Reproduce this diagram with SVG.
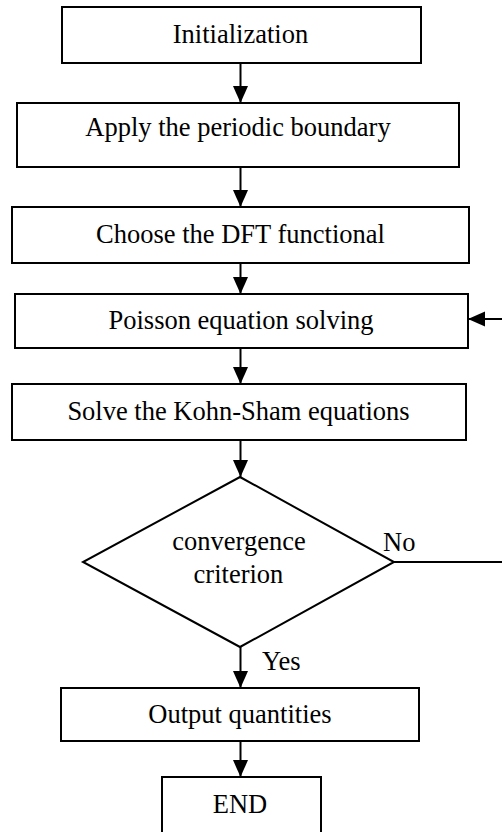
<svg xmlns="http://www.w3.org/2000/svg" width="502" height="832" viewBox="0 0 502 832">
<defs>
<style>
.box{fill:#fff;stroke:#000;stroke-width:2}
.t{font-family:"Liberation Serif","Times New Roman",serif;font-size:26.5px;fill:#000;text-anchor:middle}
.tl{font-family:"Liberation Serif","Times New Roman",serif;font-size:26.5px;fill:#000}
.c{fill:none;stroke:#000;stroke-width:2}
</style>
<marker id="ah" markerUnits="userSpaceOnUse" markerWidth="18" markerHeight="16" refX="17" refY="7.5" orient="auto">
<path d="M0,0 L17,7.5 L0,15 Z" fill="#000"/>
</marker>
</defs>
<rect width="502" height="832" fill="#fff"/>
<g id="connectors">
<line class="c" x1="240.5" y1="63" x2="240.5" y2="103" marker-end="url(#ah)"/>
<line class="c" x1="240.5" y1="167" x2="240.5" y2="207" marker-end="url(#ah)"/>
<line class="c" x1="240.5" y1="263" x2="240.5" y2="294" marker-end="url(#ah)"/>
<line class="c" x1="240.5" y1="348" x2="240.5" y2="384" marker-end="url(#ah)"/>
<line class="c" x1="240.5" y1="440" x2="240.5" y2="477" marker-end="url(#ah)"/>
<line class="c" x1="240.5" y1="647" x2="240.5" y2="688" marker-end="url(#ah)"/>
<line class="c" x1="240.5" y1="741" x2="240.5" y2="777" marker-end="url(#ah)"/>
<line class="c" x1="394" y1="562" x2="503" y2="562"/>
<line class="c" x1="503" y1="319" x2="468" y2="319" marker-end="url(#ah)"/>
<text class="tl" x="383" y="551">No</text>
<text class="tl" x="262" y="670">Yes</text>
</g>
<g id="n1"><rect class="box" x="62" y="7" width="359" height="56"/><text class="t" x="240.5" y="43">Initialization</text></g>
<g id="n2"><rect class="box" x="17" y="103" width="442" height="64"/><text class="t" x="238" y="136">Apply the periodic boundary</text></g>
<g id="n3"><rect class="box" x="12" y="207" width="457" height="56"/><text class="t" x="240.5" y="243">Choose the DFT functional</text></g>
<g id="n4"><rect class="box" x="15" y="294" width="453" height="54"/><text class="t" x="241" y="329">Poisson equation solving</text></g>
<g id="n5"><rect class="box" x="12" y="384" width="454" height="56"/><text class="t" x="238.5" y="420">Solve the Kohn-Sham equations</text></g>
<g id="n6"><polygon class="box" points="240,477 394,562 240,647 83,562"/><text class="t" x="239" y="550">convergence</text><text class="t" x="238.5" y="583">criterion</text></g>
<g id="n7"><rect class="box" x="61" y="688" width="358" height="53"/><text class="t" x="240" y="723">Output quantities</text></g>
<g id="n8"><rect class="box" x="162" y="777" width="159" height="63"/><text class="t" x="240" y="813">END</text></g>
</svg>
